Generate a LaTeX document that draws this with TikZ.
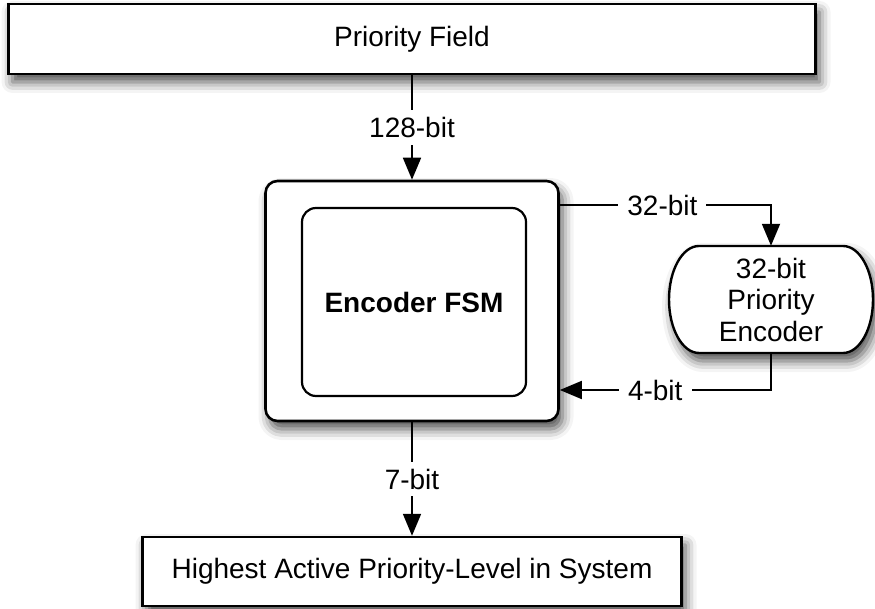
\documentclass[tikz,border=0pt]{standalone}
\usepackage{fontspec}
\setmainfont{Liberation Sans}
\usetikzlibrary{arrows.meta,shadows.blur}
\begin{document}
\begin{tikzpicture}[x=1pt,y=-1pt,
  every node/.style={font=\fontsize{28}{31.5}\selectfont},
  box/.style={draw=black, line width=2.6pt, fill=white, inner sep=0pt},
  shade/.style={blur shadow={shadow xshift=4pt, shadow yshift=-8pt,
      shadow blur radius=11pt, shadow opacity=70}},
  wire/.style={line width=1.8pt, draw=black},
  conn/.style={wire, -{Triangle[length=22pt,width=18pt,fill=black]}},
  lbl/.style={fill=white, inner xsep=9pt, inner ysep=7pt},
]
\useasboundingbox (0,0) rectangle (875,609);

% input register
\node[box, shade, minimum width=807pt, minimum height=70pt] (field) at (412,39) {Priority Field};

% state machine block
\node[box, shade, rounded corners=12pt, minimum width=293pt, minimum height=240pt] (fsm) at (412,301) {};
\node[box, line width=2.2pt, rounded corners=14pt, minimum width=224pt, minimum height=188pt,
      font=\fontsize{28}{31.5}\selectfont\bfseries] (core) at (414,302) {Encoder FSM};

% 32-bit priority encoder (capsule with elliptical ends)
\path[draw=black, line width=2.4pt, fill=white, shade]
  (699,246) arc[start angle=90, end angle=270, x radius=30pt, y radius=53.5pt]
  -- (843,353) arc[start angle=-90, end angle=90, x radius=30pt, y radius=53.5pt]
  -- cycle;
\node[minimum width=204pt, minimum height=107pt, inner sep=0pt, align=center] (pe) at (771,299.5)
  {32-bit\\Priority\\Encoder};

% output register
\node[box, line width=2.4pt, shade, minimum width=539pt, minimum height=69pt] (result) at (412,571.5)
  {Highest Active Priority-Level in System};

% taps on the right side of the state machine
\coordinate (tap32) at (fsm.east |- 0,205);
\coordinate (tap4) at (fsm.east |- 0,390);

% connectors
\draw[conn] (field.south) -- node[lbl] {128-bit} (fsm.north);
\draw[conn] (tap32) -| node[lbl, pos=0.243] {32-bit} (pe.north);
\draw[conn] (pe.south) |- node[lbl, pos=0.774] {4-bit} (tap4);
\draw[conn] (fsm.south) -- node[lbl] {7-bit} (result.north);
\end{tikzpicture}
\end{document}
